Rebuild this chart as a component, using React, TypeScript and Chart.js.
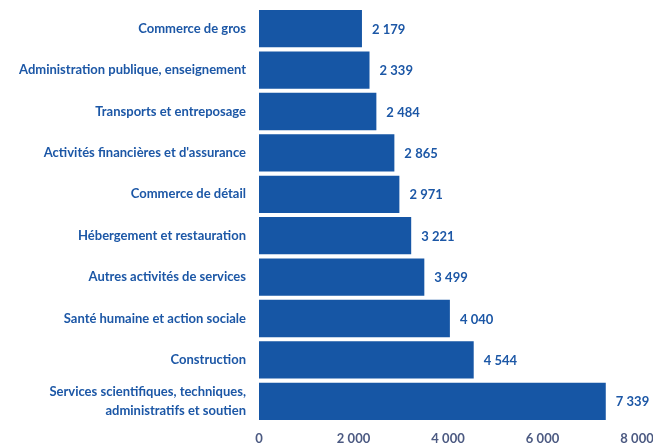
import React, { useEffect, useRef } from "react";
import { Chart, registerables } from "chart.js";

Chart.register(...registerables);

const categories: (string | string[])[] = [
  "Commerce de gros",
  "Administration publique, enseignement",
  "Transports et entreposage",
  "Activités financières et d'assurance",
  "Commerce de détail",
  "Hébergement et restauration",
  "Autres activités de services",
  "Santé humaine et action sociale",
  "Construction",
  ["Services scientifiques, techniques,", "administratifs et soutien"],
];
const values = [2179, 2339, 2484, 2865, 2971, 3221, 3499, 4040, 4544, 7339];
const xTicks = [0, 2000, 4000, 6000, 8000];

const fmt = (v: number) => {
  const s = Math.round(v).toString();
  return s.replace(/\B(?=(\d{3})+(?!\d))/g, "\u202f");
};

const BAR = "#1656a5";
const TEXT = "#1c57a6";
const TICK = "#4c5a82";
const FONT = "Lato, 'Open Sans', sans-serif";

const valueLabels = {
  id: "valueLabels",
  afterDatasetsDraw(chart: any) {
    const ctx = chart.ctx;
    const meta = chart.getDatasetMeta(0);
    ctx.save();
    ctx.font = `bold 13px ${FONT}`;
    ctx.fillStyle = TEXT;
    ctx.textAlign = "left";
    ctx.textBaseline = "middle";
    meta.data.forEach((el: any, i: number) => {
      ctx.fillText(fmt(values[i]), el.x + 10, el.y + 1);
    });
    ctx.restore();
  },
};

const zeroPad = (s: any) => {
  s.paddingLeft = 0;
  s.paddingRight = 0;
  s.paddingTop = 0;
  s.paddingBottom = 0;
};

export default function App() {
  const ref = useRef<HTMLCanvasElement>(null);
  useEffect(() => {
    if (!ref.current) return;
    const chart = new Chart(ref.current, {
      type: "bar",
      data: {
        labels: categories,
        datasets: [
          {
            data: values,
            backgroundColor: BAR,
            borderWidth: 0,
            barPercentage: 0.9,
            categoryPercentage: 1,
          },
        ],
      },
      options: {
        indexAxis: "y",
        animation: false,
        responsive: false,
        maintainAspectRatio: false,
        layout: { padding: { top: 8, right: 16, left: 0, bottom: 0 } },
        plugins: { legend: { display: false }, tooltip: { enabled: false } },
        scales: {
          x: {
            min: 0,
            max: 8000,
            afterBuildTicks: (s: any) => {
              s.ticks = xTicks.map((v) => ({ value: v }));
            },
            afterFit: (s: any) => {
              s.height = 24;
              zeroPad(s);
            },
            grid: { display: false, drawTicks: false },
            border: { display: false },
            ticks: {
              color: TICK,
              font: { family: FONT, size: 13, weight: "bold" },
              padding: 9,
              maxRotation: 0,
              callback: (v: any) => fmt(Number(v)),
            },
          },
          y: {
            afterFit: (s: any) => {
              s.width = 259;
              zeroPad(s);
            },
            grid: { display: false, drawTicks: false },
            border: { display: false },
            ticks: {
              color: TEXT,
              font: { family: FONT, size: 13, weight: "bold", lineHeight: 1.4 },
              padding: 13,
              autoSkip: false,
            },
          },
        },
      },
      plugins: [valueLabels],
    });
    return () => chart.destroy();
  }, []);
  return (
    <div style={{ position: "fixed", left: 0, top: 0, width: 653, height: 446, background: "#fff" }}>
      <canvas ref={ref} width={653} height={446} style={{ width: 653, height: 446, display: "block" }} />
    </div>
  );
}
